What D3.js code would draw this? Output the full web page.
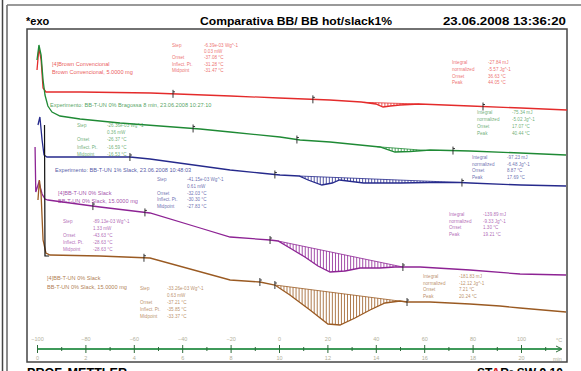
<!DOCTYPE html>
<html>
<head>
<meta charset="utf-8">
<script src="https://cdn.jsdelivr.net/npm/d3@7"></script>
<style>
  body { margin: 0; background: #fff; }
  svg { display: block; font-family: "Liberation Sans", Arial, sans-serif; }
</style>
</head>
<body>
<script>
const WIDTH = 581;
const HEIGHT = 371;

// ejes: temperatura arriba, tiempo abajo (10 K/min)
const tempTicks = [-100, -80, -60, -40, -20, 0, 20, 40, 60, 80, 100];
const tempMinor = [-90, -70, -50, -30, -10, 10, 30, 50, 70, 90, 110];
const timeTicks = [0, 2, 4, 6, 8, 10, 12, 14, 16, 18, 20];

// curvas [temperatura °C, señal mW (con offset)]
const curvaRoja = [[-100, 26.0], [-99.2, 28.2], [-98.3, 27.0], [-97.5, 24.2], [-96.3, 23.8], [-82, 23.8],
  [-53, 23.7], [-20, 23.4], [0, 23.2], [21, 23.0], [34, 22.8], [40, 22.6], [43, 22.3], [46, 22.4],
  [50, 22.5], [58, 22.6], [79, 22.4], [100, 22.2], [119, 22.0]];
const curvaVerde = [[-100, 27.0], [-99.2, 28.5], [-98.3, 27.5], [-97.5, 25.0], [-96.7, 23.5], [-95.5, 22.4],
  [-93.8, 21.8], [-90.5, 21.4], [-82.2, 21.1], [-65.7, 20.7], [-32.6, 20.1], [-20.2, 19.8], [0.4, 19.3],
  [8.7, 19.0], [21.1, 18.8], [41.7, 18.3], [47.9, 17.8], [54.1, 17.85], [62.4, 18.0], [78.9, 17.9],
  [99.6, 17.7], [118.6, 17.5]];
const curvaAzul = [[-99.6, 20.5], [-98.8, 21.3], [-97.9, 19.0], [-97.1, 17.5], [-95.9, 17.3], [-82.2, 17.3],
  [-61.6, 17.3], [-53.3, 17.1], [-20.2, 16.0], [-7.9, 15.7], [0.4, 15.5], [8.3, 15.4], [12, 15.0],
  [17.7, 14.5], [22, 14.7], [25, 15.0], [35, 14.7], [50, 14.7], [62, 14.75], [75, 14.75], [79, 14.7],
  [100, 14.5], [118.6, 14.4]];
const curvaMorada = [[-100.8, 18.3], [-100.5, 13.8], [-99.2, 14.8], [-97.9, 13.6], [-96.7, 13.1], [-95.5, 13.0],
  [-74, 12.3], [-53.3, 11.7], [-32.6, 10.2], [-20.2, 9.3], [-3.7, 9.0], [-0.4, 8.9], [4.5, 8.2],
  [10.7, 7.3], [16.1, 6.4], [21.1, 5.8], [27.3, 5.9], [33.5, 6.2], [41.7, 6.2], [47.9, 6.3], [51.2, 6.3],
  [58.3, 6.3], [78.9, 6.0], [99.6, 5.6], [118.6, 5.5]];
const curvaCafe = [[-99.6, 13.0], [-99.0, 15.0], [-98.3, 13.5], [-97.5, 9.0], [-96.3, 7.7], [-94.6, 7.5],
  [-74, 7.4], [-53.3, 7.2], [-20.2, 5.0], [-7.9, 4.8], [-1.7, 4.5], [4.5, 3.5], [12.8, 2.0], [20.2, 0.6],
  [25.2, 0.5], [31.4, 1.2], [37.6, 2.0], [43.8, 2.7], [50, 2.9], [52.9, 2.8], [62.4, 2.8], [78.9, 2.6],
  [91.3, 2.4], [99.6, 2.2], [118.6, 1.8]];
const curvaNegra = [[-96.9, 20.5], [-96.7, 7.4], [-95.0, 7.4]];

// intervalos integrados (picos) y marcas de evaluacion
const picos = { roja: [35, 58], verde: [40.5, 60.3], azul: [8.3, 75], morada: [-0.4, 51.2], cafe: [-1.7, 52.9] };
const marcas = {
  roja: [-43.8, 14.0, 84.3], verde: [-35.5, 7.4, 71.9], azul: [-61.6, -1.7, 75.6],
  morada: [-76.9, -55.4, -3.7, 51.2], cafe: [-55.8, -7.9, -1.7, 52.9]
};

// textos
const nombresMuestra = {
  roja: ["[4]Brown Convencional", "Brown Convencional, 5.0000 mg"],
  verde: ["Experimento: BB-T-UN 0% Bragossa 8 min, 23.06.2008 10:27:10"],
  azul: ["Experimento: BB-T-UN 1% Slack, 23.06.2008 10:48:03"],
  morada: ["[4]BB-T-UN 0% Slack", "BB-T-UN 0% Slack, 15.0000 mg"],
  cafe: ["[4]BB-T-UN 0% Slack", "BB-T-UN 0% Slack, 15.0000 mg"]
};
const etiquetasStep = ["Step", "", "Onset", "Inflect. Pt.", "Midpoint"];
const etiquetasIntegral = ["Integral", "normalized", "Onset", "Peak"];
const valoresStep = {
  roja: ["-6.39e-03 Wg^-1", "0.03 mW", "-37.08 °C", "-31.28 °C", "-31.47 °C"],
  verde: ["-26.36e-03 Wg^-1", "0.36 mW", "-26.37 °C", "-16.59 °C", "-16.53 °C"],
  azul: ["-41.15e-03 Wg^-1", "0.61 mW", "-32.03 °C", "-30.30 °C", "-27.83 °C"],
  morada: ["-89.13e-03 Wg^-1", "1.33 mW", "-43.63 °C", "-28.63 °C", "-28.63 °C"],
  cafe: ["-33.26e-03 Wg^-1", "0.63 mW", "-37.21 °C", "-35.85 °C", "-33.37 °C"]
};
const valoresIntegral = {
  roja: ["-27.84 mJ", "-5.57 Jg^-1", "36.63 °C", "44.05 °C"],
  verde: ["-75.34 mJ", "-5.02 Jg^-1", "17.07 °C", "40.44 °C"],
  azul: ["-97.23 mJ", "-6.48 Jg^-1", "8.87 °C", "17.69 °C"],
  morada: ["-139.89 mJ", "-9.33 Jg^-1", "1.30 °C", "19.21 °C"],
  cafe: ["-181.83 mJ", "-12.12 Jg^-1", "7.21 °C", "20.24 °C"]
};

// layout (pixeles) de los bloques de texto: [x etiqueta, x valor, y primera fila, paso]
const cajaStep = { roja: [172, 204, 47, 6.2], verde: [77, 107, 127, 7.2], azul: [157, 187, 181, 6.8],
  morada: [63, 93, 223, 7], cafe: [140, 167, 290, 7] };
const cajaIntegral = { roja: [452, 488, 64, 6.8], verde: [477, 512, 114, 7], azul: [472, 507, 159, 6.7],
  morada: [449, 483, 216, 6.7], cafe: [423, 459, 278, 6.5] };
const posNombre = { roja: [52, 66, 8], verde: [50, 107, 0], azul: [55, 172, 0], morada: [58, 195, 8], cafe: [47, 280, 8.5] };

const colores = { roja: "#e42b2b", verde: "#1f8a35", azul: "#262a8c", morada: "#8d2394", cafe: "#9a5a22" };
const series = [
  { id: "roja", puntos: curvaRoja }, { id: "verde", puntos: curvaVerde }, { id: "azul", puntos: curvaAzul },
  { id: "morada", puntos: curvaMorada }, { id: "cafe", puntos: curvaCafe }
];

const SVG = d3.select("body").append("svg").attr("width", WIDTH).attr("height", HEIGHT);

const escalaT = d3.scaleLinear().domain([-100, 100]).range([37, 521]);
const escalaTiempo = d3.scaleLinear().domain([0, 20]).range([37, 521]);
const escalaY = d3.scaleLinear().domain([0, 30]).range([330, 30]);

function valorEn(puntos, t) {
  const i = d3.bisector(d => d[0]).right(puntos, t);
  if (i <= 0) return puntos[0][1];
  if (i >= puntos.length) return puntos[puntos.length - 1][1];
  const a = puntos[i - 1], b = puntos[i];
  return a[1] + (b[1] - a[1]) * (t - a[0]) / (b[0] - a[0]);
}

// marcos
SVG.append("line").attr("x1", 2.5).attr("x2", 2.5).attr("y1", 0).attr("y2", HEIGHT).attr("stroke", "#444").attr("stroke-width", 1.5);
SVG.append("line").attr("x1", 7).attr("x2", 7).attr("y1", 5).attr("y2", HEIGHT).attr("stroke", "#666").attr("stroke-width", 1.5);
SVG.append("line").attr("x1", 7).attr("x2", WIDTH).attr("y1", 5).attr("y2", 5).attr("stroke", "#777").attr("stroke-width", 1.5);
SVG.append("rect").attr("x", 27).attr("y", 29).attr("width", 540).attr("height", 333)
  .attr("fill", "none").attr("stroke", "#444").attr("stroke-width", 1.5);

// encabezado
SVG.append("text").attr("x", 26).attr("y", 25).attr("font-size", 11).attr("font-weight", "bold").text("*exo");
SVG.append("text").attr("x", 200).attr("y", 25).attr("font-size", 11).attr("font-weight", "bold")
  .attr("textLength", 192).attr("lengthAdjust", "spacingAndGlyphs").text("Comparativa BB/ BB hot/slack1%");
SVG.append("text").attr("x", 443).attr("y", 25).attr("font-size", 11).attr("font-weight", "bold")
  .attr("textLength", 123).attr("lengthAdjust", "spacingAndGlyphs").text("23.06.2008 13:36:20");

// pie
SVG.append("text").attr("x", 27).attr("y", 377).attr("font-size", 12).attr("font-weight", "bold")
  .attr("textLength", 100).attr("lengthAdjust", "spacingAndGlyphs").text("PROF. METTLER");
const pie = SVG.append("text").attr("x", 477).attr("y", 377).attr("font-size", 12).attr("font-weight", "bold")
  .attr("textLength", 86).attr("lengthAdjust", "spacingAndGlyphs");
pie.append("tspan").text("ST");
pie.append("tspan").attr("fill", "#d42020").text("A");
pie.append("tspan").text("R");
pie.append("tspan").attr("font-size", 8).attr("dy", -3).text("e");
pie.append("tspan").attr("dy", 3).text(" SW 9.10");

// eje inferior
const yEje = 349;
const gEje = SVG.append("g");
gEje.append("line").attr("x1", escalaT(-100)).attr("x2", 561).attr("y1", yEje).attr("y2", yEje)
  .attr("stroke", "#3f9a5a").attr("stroke-width", 2);
gEje.append("path").attr("d", `M556,${yEje - 3}L562,${yEje}L556,${yEje + 3}`).attr("fill", "none").attr("stroke", "#2d6b3a");

const ejeTemp = d3.axisTop(escalaT).tickValues(tempTicks).tickSize(4).tickPadding(4).tickFormat(d3.format("d"));
const ejeTiempo = d3.axisBottom(escalaTiempo).tickValues(timeTicks).tickSize(4).tickPadding(3).tickFormat(d3.format("d"));
const ejeMenor = d3.axisBottom(escalaT).tickValues(tempMinor).tickSize(2).tickFormat("");
const ejeMenor2 = d3.axisTop(escalaT).tickValues(tempMinor).tickSize(2).tickFormat("");
[ejeTemp, ejeTiempo, ejeMenor, ejeMenor2].forEach(ax => {
  const g = gEje.append("g").attr("transform", `translate(0,${yEje})`).call(ax);
  g.select(".domain").remove();
  g.selectAll("line").attr("stroke", "#2d6b3a");
  g.selectAll("text").attr("fill", "#b2b09a").attr("font-size", 5.5).attr("font-family", "Liberation Sans, Arial");
});
gEje.append("text").attr("x", 556).attr("y", 342).attr("font-size", 5.5).attr("fill", "#b2b09a").text("°C");
gEje.append("text").attr("x", 553).attr("y", 361).attr("font-size", 5.5).attr("fill", "#b2b09a").text("min");

// curvas
const linea = d3.line().x(d => escalaT(d[0])).y(d => escalaY(d[1]));

series.forEach(s => {
  const col = colores[s.id];
  const g = SVG.append("g");
  const [t0, t1] = picos[s.id];
  const b0 = valorEn(s.puntos, t0), b1 = valorEn(s.puntos, t1);
  const rayas = d3.range(t0, t1, 1.25);
  g.selectAll("line.raya").data(rayas).join("line").attr("class", "raya")
    .attr("x1", t => escalaT(t)).attr("x2", t => escalaT(t))
    .attr("y1", t => escalaY(b0 + (b1 - b0) * (t - t0) / (t1 - t0)))
    .attr("y2", t => escalaY(valorEn(s.puntos, t)))
    .attr("stroke", col).attr("stroke-width", 0.8);
  g.append("line").attr("x1", escalaT(t0)).attr("x2", escalaT(t1)).attr("y1", escalaY(b0)).attr("y2", escalaY(b1))
    .attr("stroke", col).attr("stroke-width", 0.8);
  g.append("path").datum(s.puntos).attr("d", linea).attr("fill", "none").attr("stroke", col).attr("stroke-width", 1.3);
  g.selectAll("path.marca").data(marcas[s.id]).join("path").attr("class", "marca")
    .attr("d", t => {
      const x = escalaT(t), y = escalaY(valorEn(s.puntos, t));
      return `M${x},${y - 4}V${y + 4}M${x},${y - 2}h2`;
    })
    .attr("fill", "none").attr("stroke", "#222").attr("stroke-width", 0.9);
});
SVG.append("path").datum(curvaNegra).attr("d", linea).attr("fill", "none").attr("stroke", "#111").attr("stroke-width", 1.2);

// textos de resultados
series.forEach(s => {
  const col = colores[s.id];
  const g = SVG.append("g").attr("fill", col).attr("fill-opacity", 0.7).attr("font-size", 4.6);
  const [xl, xv, y0, dy] = cajaStep[s.id];
  etiquetasStep.forEach((e, i) => {
    g.append("text").attr("x", xl).attr("y", y0 + i * dy).text(e);
    g.append("text").attr("x", xv).attr("y", y0 + i * dy).text(valoresStep[s.id][i]);
  });
  const [xl2, xv2, y2, dy2] = cajaIntegral[s.id];
  etiquetasIntegral.forEach((e, i) => {
    g.append("text").attr("x", xl2).attr("y", y2 + i * dy2).text(e);
    g.append("text").attr("x", xv2).attr("y", y2 + i * dy2).text(valoresIntegral[s.id][i]);
  });
  const [xn, yn, dn] = posNombre[s.id];
  nombresMuestra[s.id].forEach((t, i) => {
    g.append("text").attr("x", xn).attr("y", yn + i * dn).attr("font-size", 5.6).attr("fill-opacity", 0.8).text(t);
  });
});
</script>
</body>
</html>
